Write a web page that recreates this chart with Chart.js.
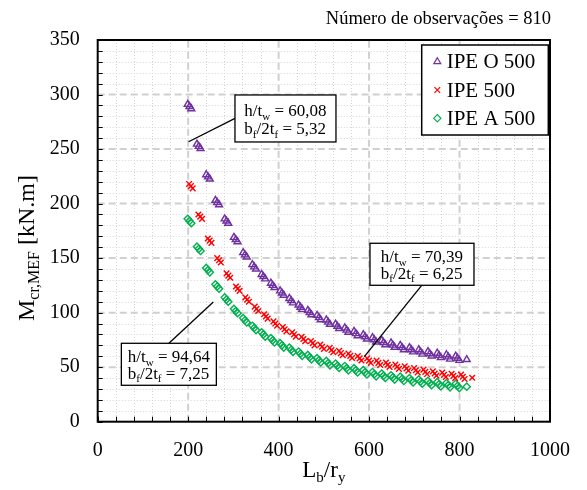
<!DOCTYPE html>
<html><head><meta charset="utf-8">
<script src="https://cdn.jsdelivr.net/npm/chart.js@4/dist/chart.umd.min.js"></script>
<style>html,body{margin:0;padding:0;background:#fff}#wrap{width:587px;height:490px}</style>
</head><body><div id="wrap"><canvas id="c" width="587" height="490"></canvas></div>
<script>
// ---- data ----
const seriesNames = ['IPE O 500', 'IPE 500', 'IPE A 500'];
const ipeOX = [199,203,207, 219.4,223.4,227.4, 239.9,243.9,247.9, 260.3,264.3,268.3, 280.7,284.7,288.7, 301.2,305.2,309.2, 321.6,325.6,329.6, 342,346,350, 362.4,366.4,370.4, 382.9,386.9,390.9, 403.3,407.3,411.3, 423.7,427.7,431.7, 444.2,448.2,452.2, 464.6,468.6,472.6, 485,489,493, 505.5,509.5,513.5, 525.9,529.9,533.9, 546.3,550.3,554.3, 566.7,570.7,574.7, 587.2,591.2,595.2, 607.6,611.6,615.6, 628,632,636, 648.5,652.5,656.5, 668.9,672.9,676.9, 689.3,693.3,697.3, 709.8,713.8,717.8, 730.2,734.2,738.2, 750.6,754.6,758.6, 771,775,779, 791.5,795.5,799.5, 815.9];
const ipeOY = [291,289,287, 254.5,252.5,250.5, 226.5,224.5,222.5, 203,201,199, 186,184,182, 169,167,165, 155,153,151, 144,142,140, 135,133,131, 127,125,123, 120,118,116, 113,111,109, 107,105,103, 102,100,98, 97.5,95.5,93.5, 93.3,91.3,89.3, 89.5,87.5,85.5, 86,84,82, 82.8,80.8,78.8, 79.9,77.9,75.9, 77.1,75.1,73.1, 74.6,72.6,70.6, 72.2,70.2,68.2, 70,68,66, 68,66,64, 66,64,62, 64.3,62.3,60.3, 62.8,60.8,58.8, 61.4,59.4,57.4, 60.2,58.2,56.2, 57];
const ipe500X = [202,206,210, 222.7,226.7,230.7, 243.5,247.5,251.5, 264.2,268.2,272.2, 284.9,288.9,292.9, 305.7,309.7,313.7, 326.4,330.4,334.4, 347.1,351.1,355.1, 367.8,371.8,375.8, 388.6,392.6,396.6, 409.3,413.3,417.3, 430,434,438, 450.8,454.8,458.8, 471.5,475.5,479.5, 492.2,496.2,500.2, 512.9,516.9,520.9, 533.7,537.7,541.7, 554.4,558.4,562.4, 575.1,579.1,583.1, 595.9,599.9,603.9, 616.6,620.6,624.6, 637.3,641.3,645.3, 658.1,662.1,666.1, 678.8,682.8,686.8, 699.5,703.5,707.5, 720.3,724.3,728.3, 741,745,749, 761.7,765.7,769.7, 782.4,786.4,790.4, 803.2,807.2,811.2, 828];
const ipe500Y = [218,216,214, 190,188,186, 168,166,164, 150,148,146, 136,134,132, 124,122,120, 114,112,110, 105.5,103.5,101.5, 98.5,96.5,94.5, 92,90,88, 86.8,84.8,82.8, 82,80,78, 77.8,75.8,73.8, 74,72,70, 70.7,68.7,66.7, 67.7,65.7,63.7, 64.9,62.9,60.9, 62.4,60.4,58.4, 60.1,58.1,56.1, 58,56,54, 56,54,52, 54.2,52.2,50.2, 52.4,50.4,48.4, 50.8,48.8,46.8, 49.2,47.2,45.2, 47.7,45.7,43.7, 46.2,44.2,42.2, 45,43,41, 44,42,40, 43.2,41.2,39.2, 40.3];
const ipeA500X = [199,203,207, 219.4,223.4,227.4, 239.9,243.9,247.9, 260.3,264.3,268.3, 280.7,284.7,288.7, 301.2,305.2,309.2, 321.6,325.6,329.6, 342,346,350, 362.4,366.4,370.4, 382.9,386.9,390.9, 403.3,407.3,411.3, 423.7,427.7,431.7, 444.2,448.2,452.2, 464.6,468.6,472.6, 485,489,493, 505.5,509.5,513.5, 525.9,529.9,533.9, 546.3,550.3,554.3, 566.7,570.7,574.7, 587.2,591.2,595.2, 607.6,611.6,615.6, 628,632,636, 648.5,652.5,656.5, 668.9,672.9,676.9, 689.3,693.3,697.3, 709.8,713.8,717.8, 730.2,734.2,738.2, 750.6,754.6,758.6, 771,775,779, 791.5,795.5,799.5, 815.9];
const ipeA500Y = [186,184,182, 160.5,158.5,156.5, 141,139,137, 126,124,122, 114,112,110, 103.5,101.5,99.5, 95,93,91, 88,86,84, 82,80,78, 76.6,74.6,72.6, 72,70,68, 68,66,64, 64.4,62.4,60.4, 61.2,59.2,57.2, 58.3,56.3,54.3, 55.7,53.7,51.7, 53.3,51.3,49.3, 51.1,49.1,47.1, 49.1,47.1,45.1, 47.3,45.3,43.3, 45.6,43.6,41.6, 44.1,42.1,40.1, 42.6,40.6,38.6, 41.3,39.3,37.3, 40,38,36, 38.8,36.8,34.8, 37.5,35.5,33.5, 36.3,34.3,32.3, 35.5,33.5,31.5, 34.8,32.8,30.8, 32.1];
const xTicks = [0, 200, 400, 600, 800, 1000];
const yTicks = [0, 50, 100, 150, 200, 250, 300, 350];
const xMinorStep = 40, yMinorStep = 10;
const observationsText = 'Número de observações = 810';
// annotation boxes: anchor (data units) + texts
const notes = [
  {bx: 303.5, by: 299.6, w: 101, h: 47, lx0: 303.5, ly0: 278.2, lx1: 201, ly1: 256.7, hw: '60,08', bf: '5,32'},
  {bx: 602, by: 163.6, w: 104, h: 42, lx0: 716.8, ly0: 125.3, lx1: 589.5, ly1: 59.6, hw: '70,39', bf: '6,25'},
  {bx: 52.3, by: 71.9, w: 95, h: 42, lx0: 157.5, ly0: 71.9, lx1: 255.6, ly1: 109.8, hw: '94,64', bf: '7,25'}
];

const SERIF = "'Liberation Serif','Times New Roman',serif";
const colors = ['#7030A0', '#FF0000', '#00B050'];
const styles = ['triangle', 'crossRot', 'rectRot'];
const radii = [4, 4, 3.6];

function pts(xs, ys) { return xs.map((v, i) => ({x: v, y: ys[i]})); }

function richWidth(ctx, parts, size) {
  let w = 0;
  for (const p of parts) {
    ctx.font = (p.sub ? Math.round(size * 0.65) : size) + 'px ' + SERIF;
    w += ctx.measureText(p.t).width;
  }
  return w;
}
function drawRich(ctx, parts, x, y, size) {
  let cx = x;
  ctx.textBaseline = 'alphabetic';
  ctx.textAlign = 'left';
  for (const p of parts) {
    const s = p.sub ? Math.round(size * 0.65) : size;
    ctx.font = s + 'px ' + SERIF;
    ctx.fillText(p.t, cx, p.sub ? y + size * 0.22 : y);
    cx += ctx.measureText(p.t).width;
  }
}
function marker(ctx, style, x, y, r) {
  ctx.beginPath();
  if (style === 'triangle') {
    ctx.moveTo(x, y - r);
    ctx.lineTo(x + r * 0.866, y + r * 0.5);
    ctx.lineTo(x - r * 0.866, y + r * 0.5);
    ctx.closePath();
  } else if (style === 'crossRot') {
    const o = r * 0.707;
    ctx.moveTo(x - o, y - o); ctx.lineTo(x + o, y + o);
    ctx.moveTo(x - o, y + o); ctx.lineTo(x + o, y - o);
  } else {
    ctx.moveTo(x - r, y); ctx.lineTo(x, y - r); ctx.lineTo(x + r, y); ctx.lineTo(x, y + r);
    ctx.closePath();
  }
  ctx.stroke();
}

const deco = {
  id: 'deco',
  beforeDatasetsDraw(chart) {
    const {ctx, chartArea: a, scales: {x, y}} = chart;
    ctx.save();
    ctx.strokeStyle = '#d4d4d4'; ctx.lineWidth = 1; ctx.setLineDash([1, 2]);
    for (let v = xMinorStep; v < xTicks[xTicks.length - 1]; v += xMinorStep) {
      if (xTicks.includes(v)) continue;
      const px = Math.round(x.getPixelForValue(v)) + 0.5;
      ctx.beginPath(); ctx.moveTo(px, a.top); ctx.lineTo(px, a.bottom); ctx.stroke();
    }
    for (let v = yMinorStep; v < yTicks[yTicks.length - 1]; v += yMinorStep) {
      if (yTicks.includes(v)) continue;
      const py = Math.round(y.getPixelForValue(v)) + 0.5;
      ctx.beginPath(); ctx.moveTo(a.left, py); ctx.lineTo(a.right, py); ctx.stroke();
    }
    ctx.strokeStyle = '#d0d0d0'; ctx.lineWidth = 2; ctx.setLineDash([7, 4]);
    for (const v of xTicks) {
      if (v === xTicks[0] || v === xTicks[xTicks.length - 1]) continue;
      const px = x.getPixelForValue(v);
      ctx.beginPath(); ctx.moveTo(px, a.bottom); ctx.lineTo(px, a.top); ctx.stroke();
    }
    for (const v of yTicks) {
      if (v === yTicks[0] || v === yTicks[yTicks.length - 1]) continue;
      const py = y.getPixelForValue(v);
      ctx.beginPath(); ctx.moveTo(a.left, py); ctx.lineTo(a.right, py); ctx.stroke();
    }
    ctx.restore();
  },
  afterDatasetsDraw(chart) {
    const {ctx, chartArea: a, scales: {x, y}} = chart;
    ctx.save();
    ctx.strokeStyle = '#000'; ctx.lineWidth = 1;
    for (let v = 0; v <= xTicks[xTicks.length - 1]; v += xMinorStep) {
      const px = Math.round(x.getPixelForValue(v)) + 0.5;
      ctx.beginPath(); ctx.moveTo(px, a.bottom); ctx.lineTo(px, a.bottom - 5); ctx.stroke();
    }
    for (let v = 0; v <= yTicks[yTicks.length - 1]; v += yMinorStep) {
      const py = Math.round(y.getPixelForValue(v)) + 0.5;
      ctx.beginPath(); ctx.moveTo(a.left, py); ctx.lineTo(a.left + 5, py); ctx.stroke();
    }
    ctx.lineWidth = 2;
    ctx.strokeRect(a.left, a.top, a.right - a.left, a.bottom - a.top);

    for (const n of notes) {
      const bx = x.getPixelForValue(n.bx), by = y.getPixelForValue(n.by);
      ctx.lineWidth = 1.3; ctx.strokeStyle = '#000';
      ctx.beginPath();
      ctx.moveTo(x.getPixelForValue(n.lx0), y.getPixelForValue(n.ly0));
      ctx.lineTo(x.getPixelForValue(n.lx1), y.getPixelForValue(n.ly1));
      ctx.stroke();
      ctx.fillStyle = '#fff';
      ctx.fillRect(bx, by, n.w, n.h);
      ctx.strokeRect(bx, by, n.w, n.h);
      ctx.fillStyle = '#000';
      const size = 17;
      const l1 = [{t: 'h/t'}, {t: 'w', sub: true}, {t: ' = ' + n.hw}];
      const l2 = [{t: 'b'}, {t: 'f', sub: true}, {t: '/2t'}, {t: 'f', sub: true}, {t: ' = ' + n.bf}];
      const w1 = richWidth(ctx, l1, size), w2 = richWidth(ctx, l2, size);
      const tx = bx + (n.w - Math.max(w1, w2)) / 2;
      drawRich(ctx, l1, tx, by + n.h * 0.45, size);
      drawRich(ctx, l2, tx, by + n.h * 0.84, size);
    }

    const lx = 421.7, ly = 45, lw = 126.6, lh = 90;
    ctx.fillStyle = '#fff';
    ctx.fillRect(lx, ly, lw, lh);
    ctx.lineWidth = 1.5; ctx.strokeStyle = '#000';
    ctx.strokeRect(lx, ly, lw, lh);
    const rows = [61.7, 90, 118.3];
    for (let i = 0; i < seriesNames.length; i++) {
      ctx.strokeStyle = colors[i]; ctx.lineWidth = 1.2;
      marker(ctx, styles[i], 437.3, rows[i], i === 2 ? 3.6 : 4);
      ctx.fillStyle = '#000';
      ctx.font = '21px ' + SERIF;
      ctx.textAlign = 'left'; ctx.textBaseline = 'middle';
      ctx.fillText(seriesNames[i], 446.7, rows[i] + 1);
    }

    ctx.fillStyle = '#000';
    ctx.font = '18.5px ' + SERIF;
    ctx.textAlign = 'right'; ctx.textBaseline = 'alphabetic';
    ctx.fillText(observationsText, 551, 24);

    const xt = [{t: 'L'}, {t: 'b', sub: true}, {t: '/r'}, {t: 'y', sub: true}];
    const xw = richWidth(ctx, xt, 23);
    drawRich(ctx, xt, (a.left + a.right) / 2 - xw / 2, 477, 23);

    const yt = [{t: 'M'}, {t: 'cr,MEF', sub: true}, {t: ' [kN.m]'}];
    const yw = richWidth(ctx, yt, 24);
    ctx.translate(34, 248);
    ctx.rotate(-Math.PI / 2);
    drawRich(ctx, yt, -yw / 2, 0, 24);
    ctx.restore();
  }
};

new Chart(document.getElementById('c'), {
  type: 'scatter',
  data: {
    datasets: [
      {label: seriesNames[0], data: pts(ipeOX, ipeOY)},
      {label: seriesNames[1], data: pts(ipe500X, ipe500Y)},
      {label: seriesNames[2], data: pts(ipeA500X, ipeA500Y)}
    ].map((d, i) => Object.assign(d, {
      pointStyle: styles[i], pointRadius: radii[i], pointBorderColor: colors[i],
      pointBackgroundColor: 'rgba(0,0,0,0)', pointBorderWidth: 1.4, pointHoverRadius: radii[i]
    }))
  },
  options: {
    responsive: false, animation: false, events: [],
    layout: {padding: {left: 0, right: 30.3, top: 40, bottom: 0}},
    plugins: {legend: {display: false}, tooltip: {enabled: false}},
    scales: {
      x: {
        type: 'linear', min: xTicks[0], max: xTicks[xTicks.length - 1],
        afterFit(s) { s.height = 68.3; },
        afterBuildTicks(s) { s.ticks = xTicks.map(v => ({value: v})); },
        ticks: {color: '#000', font: {family: SERIF, size: 20}, padding: 17, maxRotation: 0, callback: v => String(v)},
        grid: {display: false, drawTicks: false}, border: {display: false}
      },
      y: {
        type: 'linear', min: yTicks[0], max: yTicks[yTicks.length - 1],
        afterFit(s) { s.width = 97.7; },
        afterBuildTicks(s) { s.ticks = yTicks.map(v => ({value: v})); },
        ticks: {color: '#000', font: {family: SERIF, size: 20}, padding: 18, callback: v => String(v)},
        grid: {display: false, drawTicks: false}, border: {display: false}
      }
    }
  },
  plugins: [deco]
});
</script>
</body></html>
